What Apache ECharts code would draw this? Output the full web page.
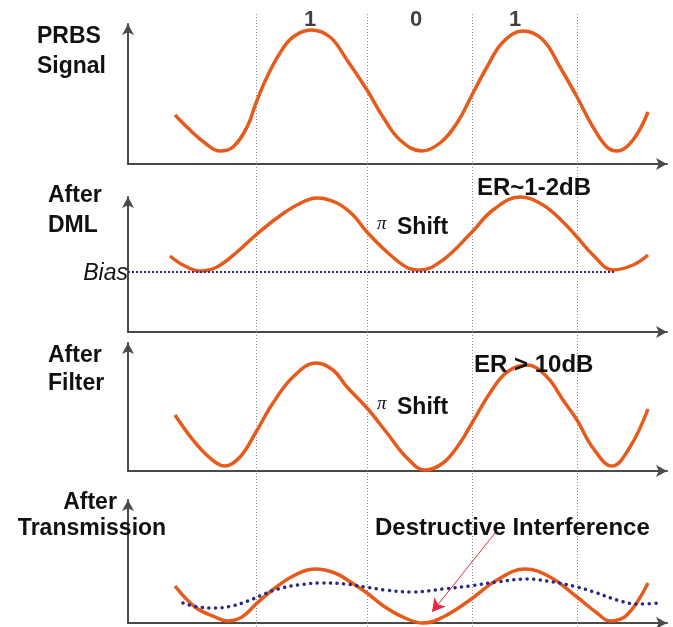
<!DOCTYPE html>
<html><head><meta charset="utf-8">
<script src="https://cdn.jsdelivr.net/npm/echarts@6/dist/echarts.min.js"></script>
<style>html,body{margin:0;padding:0;background:#fff}#c{width:673px;height:627px}</style>
</head><body><div id="c"></div>
<script>
// ---- data (x: time units from the axis origin, y: amplitude above each axis) ----
const bitLabels = ['1', '0', '1'];
const bitLabelX = [182, 288, 387];
const bitEdges = [128, 239, 344, 449];

const prbsX = [47, 62, 77, 92, 105, 119, 128, 139, 152, 165, 183, 202, 219, 239, 255, 272, 294, 312, 329, 344, 359, 375, 395, 415, 432, 449, 465, 479, 489, 505, 520];
const prbsY = [49, 34, 21, 13, 17, 37, 61, 87, 111, 127, 134, 127, 104, 74, 47, 24, 13, 21, 41, 69, 97, 122, 133, 124, 97, 67, 37, 17, 13, 24, 52];

const dmlX = [42, 55, 72, 89, 109, 129, 149, 169, 189, 209, 225, 239, 259, 280, 292, 315, 344, 365, 392, 415, 435, 449, 465, 485, 505, 520];
const dmlY = [76, 67, 61, 65, 80, 98, 114, 127, 134, 129, 117, 100, 80, 64, 62, 72, 100, 122, 135, 127, 110, 95, 77, 62, 67, 77];
const biasLevel = 60;
const biasEnd = 487;

const filtX = [47, 65, 82, 97, 112, 128, 145, 165, 188, 205, 219, 239, 259, 279, 297, 315, 332, 344, 362, 379, 399, 419, 435, 449, 465, 484, 502, 520];
const filtY = [56, 31, 13, 5, 14, 39, 68, 94, 108, 101, 84, 63, 38, 13, 1, 8, 28, 48, 78, 99, 106, 94, 71, 51, 23, 5, 24, 62];

const txX = [47, 67, 87, 99, 114, 129, 147, 167, 187, 207, 224, 239, 257, 277, 295, 315, 342, 369, 397, 422, 449, 469, 482, 499, 520];
const txY = [37, 16, 6, 2, 6, 20, 35, 48, 54, 50, 40, 30, 16, 5, 0, 6, 23, 43, 54, 46, 26, 10, 2, 8, 40];

const dispX = [55, 70, 87, 104, 120, 134, 150, 170, 194, 217, 237, 257, 285, 315, 342, 369, 399, 425, 449, 469, 489, 509, 532];
const dispY = [20, 16, 15, 17, 22, 28, 34, 38, 40, 39, 36, 33, 31, 34, 37, 41, 44, 41, 36, 30, 23, 19, 20];

const arrowFrom = [367, 90];
const arrowTo = [304, 11];

// ---- layout ----
const LEFT = 128, WIDTH = 539, XMAX = 539;
const panels = [
  {top: 24, height: 140},
  {top: 197, height: 135},
  {top: 343, height: 128},
  {top: 500, height: 123}
];
const OVER = {top: 13, height: 614};
const labelRowY = 607.5;

const ORANGE = '#e65a1c';
const NAVY = '#2b2b85';
const AXIS = '#4a4a4a';
const FONT = '"Liberation Sans", Arial, sans-serif';

const zip = (xs, ys) => xs.map((x, i) => [x, ys[i]]);

const grids = panels.map(p => ({left: LEFT, width: WIDTH, top: p.top, height: p.height}));
grids.push({left: LEFT, width: WIDTH, top: OVER.top, height: OVER.height});

const axisLine = {
  show: true, onZero: false,
  symbol: ['none', 'arrow'], symbolSize: [9, 11],
  lineStyle: {color: AXIS, width: 2}
};
const xAxes = panels.map((p, i) => ({
  type: 'value', gridIndex: i, min: 0, max: XMAX,
  axisLine, axisTick: {show: false}, axisLabel: {show: false}, splitLine: {show: false}
}));
xAxes.push({type: 'value', gridIndex: 4, min: 0, max: XMAX, show: false});
const yAxes = panels.map((p, i) => ({
  type: 'value', gridIndex: i, min: 0, max: p.height,
  axisLine, axisTick: {show: false}, axisLabel: {show: false}, splitLine: {show: false}
}));
yAxes.push({type: 'value', gridIndex: 4, min: 0, max: OVER.height, show: false});

const curve = (idx, xs, ys) => ({
  type: 'line', xAxisIndex: idx, yAxisIndex: idx, data: zip(xs, ys),
  smooth: 0.4, showSymbol: false, clip: false, z: 5,
  lineStyle: {color: ORANGE, width: 3.5}
});

const series = [
  {
    type: 'line', xAxisIndex: 4, yAxisIndex: 4, data: [], silent: true, z: 1,
    markLine: {
      silent: true, symbol: ['none', 'none'], label: {show: false},
      lineStyle: {color: '#8f8f8f', width: 1, type: [1, 2]},
      data: bitEdges.map(v => ({xAxis: v}))
    }
  },
  {
    type: 'scatter', xAxisIndex: 4, yAxisIndex: 4, symbolSize: 0, silent: true,
    data: bitLabelX.map((x, i) => ({value: [x, labelRowY], name: bitLabels[i]})),
    label: {show: true, position: 'inside', formatter: p => p.name,
      fontFamily: FONT, fontWeight: 'bold', fontSize: 22, color: '#111'}
  },
  curve(0, prbsX, prbsY),
  curve(1, dmlX, dmlY),
  {
    type: 'line', xAxisIndex: 1, yAxisIndex: 1, data: [[0, biasLevel], [biasEnd, biasLevel]],
    showSymbol: false, clip: false, z: 6,
    lineStyle: {color: NAVY, width: 2, type: [2, 2]}
  },
  curve(2, filtX, filtY),
  curve(3, txX, txY),
  {
    type: 'line', xAxisIndex: 3, yAxisIndex: 3, data: zip(dispX, dispY),
    smooth: 0.4, showSymbol: false, clip: false, z: 6,
    lineStyle: {color: NAVY, width: 3.5, type: [0.1, 6.5], cap: 'round'},
    markLine: {
      silent: true, symbol: ['none', 'arrow'], symbolSize: [11, 13], label: {show: false},
      lineStyle: {color: '#e3283f', width: 1, type: 'solid'},
      data: [[{coord: arrowFrom}, {coord: arrowTo}]]
    }
  }
];

const T = (text, x, y, opts = {}) => ({
  type: 'text', x, y, z: 20,
  style: Object.assign({
    text, fontFamily: FONT, fontWeight: 'bold', fontSize: 23, fill: '#111',
    align: 'left', verticalAlign: 'middle'
  }, opts)
});
const PI = (x, y) => T('\u03c0', x, y, {fontFamily: '"Liberation Serif", "Times New Roman", serif', fontWeight: 'normal', fontStyle: 'italic', fontSize: 19});

const graphic = [
  T('PRBS', 37, 37), T('Signal', 37, 67),
  T('After', 48, 196), T('DML', 48, 226),
  T('Bias', 128, 274, {fontWeight: 'normal', fontStyle: 'italic', align: 'right'}),
  T('ER~1-2dB', 477, 188, {fontSize: 24}),
  PI(377, 224), T('Shift', 397, 228),
  T('After', 48, 356), T('Filter', 48, 384),
  T('ER > 10dB', 474, 365, {fontSize: 24}),
  PI(377, 404), T('Shift', 397, 408),
  T('After', 90, 503, {align: 'center'}), T('Transmission', 92, 529, {align: 'center'}),
  T('Destructive Interference', 375, 528, {fontSize: 24})
];

const chart = echarts.init(document.getElementById('c'), null, {renderer: 'canvas'});
chart.setOption({
  animation: false,
  backgroundColor: '#fff',
  grid: grids, xAxis: xAxes, yAxis: yAxes, series, graphic
});
</script></body></html>
